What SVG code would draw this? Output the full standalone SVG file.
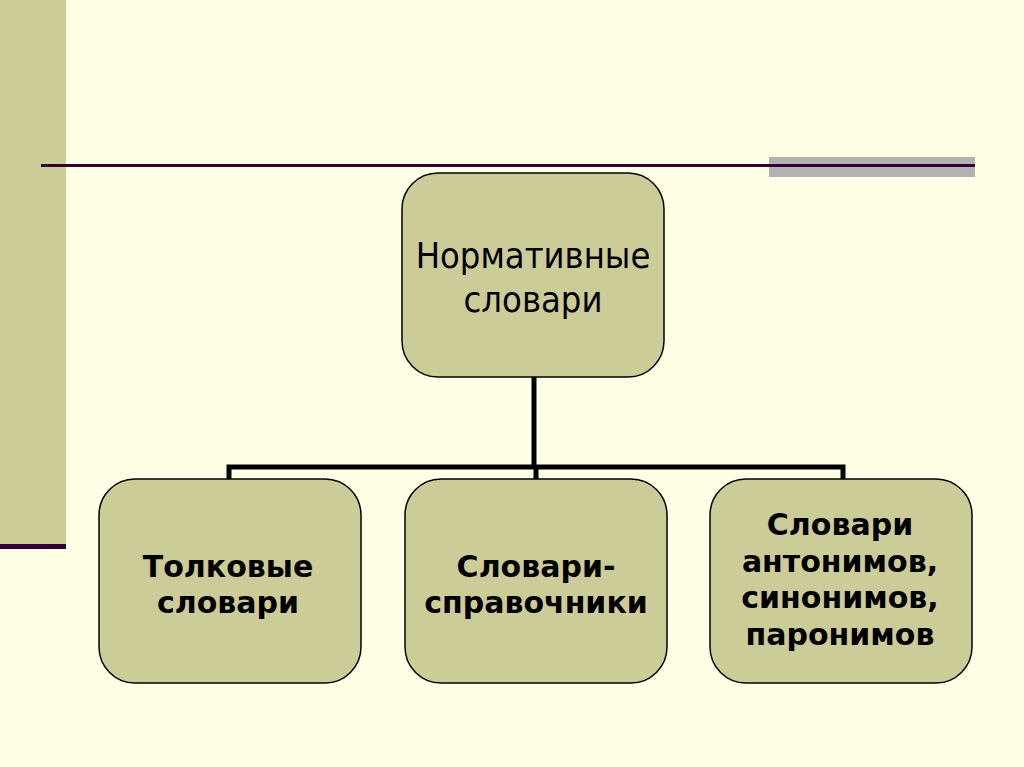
<svg xmlns="http://www.w3.org/2000/svg" width="1024" height="767" viewBox="0 0 1024 767">
<style>
.box{fill:#CCCC99;stroke:#000;stroke-width:1.5}
.t{font-family:"DejaVu Sans",Verdana,sans-serif;fill:#000;text-anchor:middle}
.b{font-weight:bold;font-size:30px}
.r{font-family:"DejaVu Sans Condensed","DejaVu Sans",sans-serif;font-stretch:condensed;font-size:36px}
.conn{fill:none;stroke:#000;stroke-width:5;stroke-linejoin:miter}
</style>
<rect width="1024" height="767" fill="#FFFFE5"/>
<rect x="0" y="0" width="66" height="547" fill="#CCCC99"/>
<rect x="0" y="544" width="66" height="5" fill="#330033"/>
<rect x="769" y="157" width="206" height="20" fill="#B2B2B2"/>
<rect x="41" y="164" width="934" height="3" fill="#330033"/>
<g id="connectors">
<path class="conn" d="M534 377V467M229 480V467H843V480M536 467V480"/>
</g>
<g id="node-root">
<rect class="box" x="402" y="173" width="262" height="204" rx="36"/>
<text class="t r" x="533" y="268">Нормативные</text>
<text class="t r" x="533" y="312">словари</text>
</g>
<g id="node-1">
<rect class="box" x="99" y="479" width="262" height="204" rx="36"/>
<text class="t b" x="228" y="577">Толковые</text>
<text class="t b" x="228" y="613">словари</text>
</g>
<g id="node-2">
<rect class="box" x="405" y="479" width="262" height="204" rx="36"/>
<text class="t b" x="536" y="577">Словари-</text>
<text class="t b" x="536" y="613">справочники</text>
</g>
<g id="node-3">
<rect class="box" x="710" y="479" width="262" height="204" rx="36"/>
<text class="t b" x="840" y="535">Словари</text>
<text class="t b" x="840" y="572">антонимов,</text>
<text class="t b" x="840" y="608">синонимов,</text>
<text class="t b" x="840" y="645">паронимов</text>
</g>
</svg>
